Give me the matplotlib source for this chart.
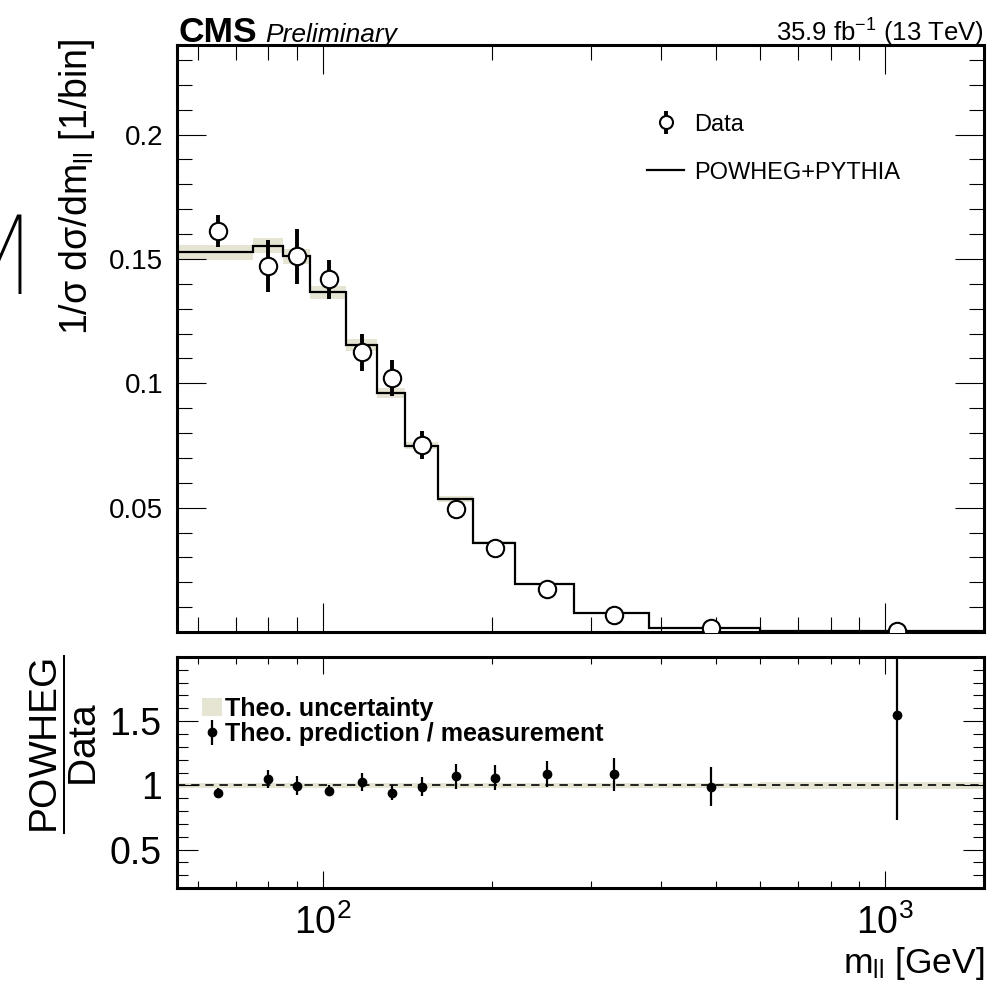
import numpy as np
import matplotlib
matplotlib.use('Agg')
import matplotlib.pyplot as plt
from matplotlib.patches import Patch
from matplotlib.ticker import MultipleLocator, FixedLocator, FuncFormatter, NullFormatter

plt.rcParams['font.family'] = ['Liberation Sans', 'DejaVu Sans']
plt.rcParams['mathtext.fontset'] = 'custom'
plt.rcParams['mathtext.rm'] = 'Liberation Sans'
plt.rcParams['mathtext.it'] = 'Liberation Sans:italic'
plt.rcParams['mathtext.bf'] = 'Liberation Sans:bold'

# bin edges in m_ll [GeV]
edges = [55, 75, 85, 95, 110, 125, 140, 160, 185, 220, 280, 380, 600, 1500]

# normalised cross section, data
data_vals = [0.1613, 0.1471, 0.1511, 0.1418, 0.1124, 0.1020, 0.0752,
             0.0494, 0.0336, 0.0173, 0.0068, 0.0015, 0.0003]
data_errs = [0.0064, 0.0104, 0.0110, 0.0079, 0.0073, 0.0072, 0.0056,
             0.0040, 0.0025, 0.0015, 0.0007, 0.0002, 0.0001]

# POWHEG+PYTHIA prediction
mc_vals = [0.1526, 0.1553, 0.1511, 0.1365, 0.1154, 0.0962, 0.0749,
           0.0535, 0.0359, 0.0192, 0.0075, 0.0015, 0.0005]
theo_unc = [0.02, 0.02, 0.02, 0.02, 0.02, 0.02, 0.02,
            0.02, 0.02, 0.02, 0.02, 0.02, 0.025]

# ratio panel
ratio_vals = [0.943, 1.052, 0.997, 0.958, 1.023, 0.943, 0.990,
              1.070, 1.060, 1.090, 1.086, 0.990, 1.548]
ratio_errs = [0.033, 0.070, 0.075, 0.045, 0.070, 0.060, 0.075,
              0.095, 0.095, 0.100, 0.130, 0.150, 0.820]

edges = np.array(edges, dtype=float)
centers = (edges[:-1] + edges[1:]) / 2
mc = np.array(mc_vals)
unc = np.array(theo_unc)
band_col = '#e6e5d3'

W, H = 990, 983
fig = plt.figure(figsize=(W / 100, H / 100), dpi=100)
ax1 = fig.add_axes([177 / W, 1 - 632 / H, 807 / W, 587 / H])
ax2 = fig.add_axes([177 / W, 1 - 888 / H, 807 / W, 231 / H])

# ---- top panel
ax1.stairs(mc * (1 + unc), edges, baseline=mc * (1 - unc), fill=True,
           color=band_col, lw=0, zorder=1)
h_mc = ax1.stairs(mc, edges, color='black', lw=1.6, zorder=2)
h_data = ax1.errorbar(centers, data_vals, yerr=data_errs, fmt='o', ms=12.5,
                      mfc='white', mec='black', mew=1.5, ecolor='black',
                      elinewidth=2.8, capsize=0, zorder=3)

ax1.set_xscale('log')
ax1.set_xlim(55, 1500)
ax1.set_ylim(0, 0.236)
ax1.yaxis.set_major_locator(FixedLocator([0.05, 0.1, 0.15, 0.2]))
ax1.yaxis.set_minor_locator(MultipleLocator(0.01))
ax1.yaxis.set_major_formatter(FuncFormatter(lambda v, p: '%g' % v))
ax1.xaxis.set_minor_formatter(NullFormatter())
ax1.tick_params(labelbottom=False)
ax1.tick_params(axis='x', which='major', length=21, width=0.8)
ax1.tick_params(axis='x', which='minor', length=11, width=0.8)
ax1.tick_params(axis='y', which='major', length=21, width=0.8, labelsize=20, pad=10)
ax1.tick_params(axis='y', which='minor', length=11, width=0.8)

ax1.set_ylabel('1/σ dσ/dm$_{\\mathrm{ll}}$ [1/bin]', fontsize=27, loc='top')
ax1.yaxis.set_label_coords(-0.099, 1.01)

ax1.legend([h_data, h_mc], ['Data', 'POWHEG+PYTHIA'], loc='upper left',
           bbox_to_anchor=(0.582, 0.883), frameon=False, fontsize=17,
           handlelength=1.6, handletextpad=0.4, labelspacing=1.1,
           borderpad=0, borderaxespad=0, markerscale=0.75)

fig.text(178 / W, 1 - 42 / H, 'CMS', fontsize=25.5, fontweight='bold',
         ha='left', va='baseline')
fig.text(265 / W, 1 - 42 / H, 'Preliminary', fontsize=19, style='italic',
         ha='left', va='baseline')
fig.text(984 / W, 1 - 42 / H, '35.9 fb$^{-1}$ (13 TeV)', fontsize=18.5,
         ha='right', va='baseline')
fig.text(31 / W, 1 - 263 / H, 'M', fontsize=80, ha='right', va='center',
         family=['Roboto', 'DejaVu Sans'], fontweight='light')

# ---- ratio panel
ax2.stairs(1 + unc, edges, baseline=1 - unc, fill=True, color=band_col,
           lw=0, zorder=1)
ax2.axhline(1, color='black', ls='--', lw=1.2, dashes=(5, 3.5), zorder=2)
h_ratio = ax2.errorbar(centers, ratio_vals, yerr=ratio_errs, fmt='o', ms=6,
                       color='black', elinewidth=1.6, capsize=0, zorder=3)

ax2.set_xscale('log')
ax2.set_xlim(55, 1500)
ax2.set_ylim(0.2, 2.0)
ax2.yaxis.set_major_locator(FixedLocator([0.5, 1.0, 1.5]))
ax2.yaxis.set_minor_locator(MultipleLocator(0.1))
ax2.yaxis.set_major_formatter(FuncFormatter(lambda v, p: '%g' % v))
ax2.xaxis.set_minor_formatter(NullFormatter())
ax2.tick_params(axis='x', which='major', length=12, width=0.8, labelsize=27, pad=12)
ax2.tick_params(axis='x', which='minor', length=5, width=0.8)
ax2.tick_params(axis='y', which='major', length=15, width=0.8, labelsize=27, pad=11)
ax2.tick_params(axis='y', which='minor', length=8, width=0.8)

ax2.set_ylabel('$\\dfrac{\\mathrm{POWHEG}}{\\mathrm{Data}}$', fontsize=28)
ax2.yaxis.label.set_va('center')
ax2.yaxis.set_label_coords(-0.14, 0.62)
ax2.set_xlabel('m$_{\\mathrm{ll}}$ [GeV]', fontsize=25.5, loc='right')
ax2.xaxis.label.set_va('bottom')
ax2.xaxis.set_label_coords(1.0, -0.405)

ax2.legend([Patch(facecolor=band_col, edgecolor='none'), h_ratio],
           ['Theo. uncertainty', 'Theo. prediction / measurement'],
           loc='upper left', bbox_to_anchor=(0.031, 0.828), frameon=False,
           prop=dict(weight='bold', size=18), handlelength=0.8,
           handletextpad=0.1, labelspacing=0.05, borderpad=0, borderaxespad=0)

for ax in (ax1, ax2):
    ax.tick_params(which='both', direction='in', top=True, right=True)
    for sp in ax.spines.values():
        sp.set_linewidth(2.2)

fig.savefig('out.png', dpi=100)
